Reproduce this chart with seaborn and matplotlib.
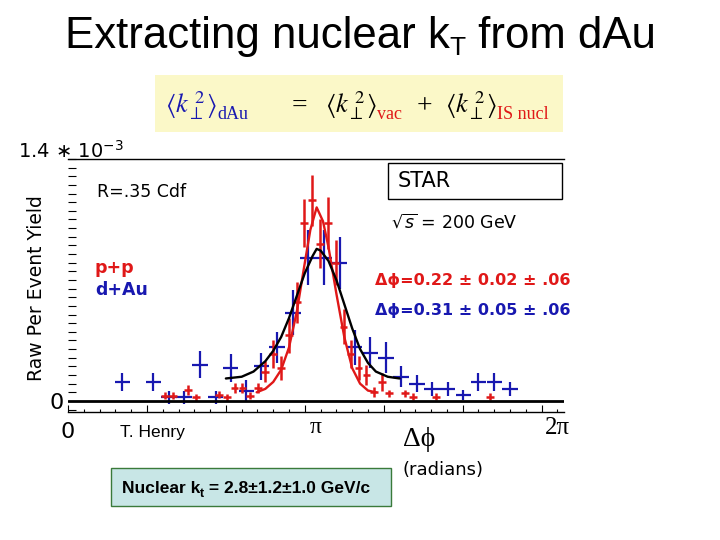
import matplotlib
matplotlib.use('Agg')
import matplotlib.pyplot as plt
import matplotlib.patches as patches
from matplotlib.ticker import MultipleLocator
import seaborn as sns

# d+Au points, bins of pi/16 (radians, yield in units of 1e-3)
dau_phi = [0.69, 1.08, 1.28, 1.47, 1.67, 1.87, 2.06, 2.26, 2.45, 2.65, 2.85, 3.04, 3.24,
           3.44, 3.63, 3.83, 4.03, 4.22, 4.42, 4.61, 4.81, 5.01, 5.20, 5.40, 5.60]
dau_yield = [0.11, 0.11, 0.02, 0.02, 0.21, 0.02, 0.19, 0.06, 0.20, 0.31, 0.51, 0.83, 0.83,
             0.80, 0.31, 0.28, 0.25, 0.14, 0.10, 0.07, 0.07, 0.035, 0.11, 0.11, 0.07]
dau_err = [0.05, 0.05, 0.04, 0.04, 0.08, 0.04, 0.08, 0.06, 0.08, 0.09, 0.13, 0.16, 0.16,
           0.15, 0.10, 0.09, 0.09, 0.06, 0.05, 0.04, 0.04, 0.03, 0.05, 0.05, 0.04]
dau_halfbin = 0.098

# p+p points, bins of pi/32
pp_phi = [1.23, 1.33, 1.52, 1.62, 1.91, 2.01, 2.11, 2.21, 2.31, 2.41, 2.50, 2.60, 2.70,
          2.80, 2.90, 2.99, 3.09, 3.19, 3.29, 3.39, 3.49, 3.58, 3.68, 3.78, 3.88, 3.98,
          4.07, 4.27, 4.37, 4.66, 5.35]
pp_yield = [0.03, 0.03, 0.064, 0.02, 0.035, 0.02, 0.075, 0.075, 0.03, 0.075, 0.17, 0.27, 0.19,
            0.38, 0.57, 1.03, 1.16, 0.91, 1.03, 0.80, 0.43, 0.27, 0.19, 0.15, 0.05, 0.11,
            0.045, 0.045, 0.025, 0.025, 0.025]
pp_err = [0.02, 0.02, 0.03, 0.02, 0.02, 0.02, 0.03, 0.03, 0.02, 0.03, 0.06, 0.08, 0.07,
          0.10, 0.12, 0.14, 0.15, 0.14, 0.15, 0.13, 0.10, 0.08, 0.07, 0.06, 0.03, 0.05,
          0.02, 0.02, 0.02, 0.02, 0.02]
pp_halfbin = 0.049

# fit curves
pp_fit_phi = [2.39, 2.50, 2.60, 2.70, 2.80, 2.90, 3.00, 3.07, 3.15, 3.23, 3.30, 3.40,
              3.50, 3.60, 3.70, 3.80, 3.90]
pp_fit_yield = [0.05, 0.07, 0.11, 0.18, 0.31, 0.52, 0.80, 0.99, 1.12, 1.04, 0.89, 0.62,
                0.37, 0.19, 0.10, 0.06, 0.05]
dau_fit_phi = [2.00, 2.20, 2.35, 2.50, 2.60, 2.70, 2.80, 2.90, 3.00, 3.10, 3.15, 3.20,
               3.30, 3.40, 3.50, 3.60, 3.70, 3.80, 3.90, 4.05, 4.20]
dau_fit_yield = [0.13, 0.14, 0.17, 0.23, 0.29, 0.37, 0.48, 0.61, 0.74, 0.84, 0.88, 0.87,
                 0.81, 0.70, 0.56, 0.42, 0.30, 0.22, 0.17, 0.14, 0.13]

sns.set_style('white')
plt.rcParams['font.family'] = ['DejaVu Sans']
plt.rcParams['text.color'] = 'black'
plt.rcParams['xtick.color'] = 'black'
plt.rcParams['ytick.color'] = 'black'

BLUE = '#1818b0'
RED = '#e01818'
W, H = 720, 540


def fx(px):
    return px / W


def fy(py):
    return 1 - py / H


fig = plt.figure(figsize=(7.2, 5.4), dpi=100)
ax = fig.add_axes([fx(68), fy(412), fx(564) - fx(68), fy(159) - fy(412)])

ax.errorbar(dau_phi, dau_yield, xerr=dau_halfbin, yerr=dau_err, fmt='none',
            ecolor=BLUE, elinewidth=1.6, capsize=0)
ax.errorbar(pp_phi, pp_yield, xerr=pp_halfbin, yerr=pp_err, fmt='none',
            ecolor=RED, elinewidth=1.8, capsize=0)
sns.lineplot(x=pp_fit_phi, y=pp_fit_yield, color=RED, lw=1.7, ax=ax)
sns.lineplot(x=dau_fit_phi, y=dau_fit_yield, color='black', lw=1.7, ax=ax)
ax.axhline(0, color='black', lw=2)

ax.set_xlim(0, 6.2832)
ax.set_ylim(-0.064, 1.4)
ax.xaxis.set_major_locator(MultipleLocator(1))
ax.xaxis.set_minor_locator(MultipleLocator(0.2))
ax.set_xticklabels([])
ax.set_yticks([0])
ax.set_yticklabels(['0'], fontsize=16)
ax.yaxis.set_minor_locator(MultipleLocator(0.05))
ax.tick_params(axis='x', which='major', direction='in', length=5, width=0.8, bottom=True)
ax.tick_params(axis='x', which='minor', direction='in', length=2.5, width=0.8, bottom=True)
ax.tick_params(axis='y', which='major', direction='in', length=9, width=0.8, left=True, pad=3)
ax.tick_params(axis='y', which='minor', direction='in', length=6, width=0.8, left=True)
ax.spines['left'].set_visible(False)
ax.spines['right'].set_visible(False)
for s in ['top', 'bottom']:
    ax.spines[s].set_color('black')
    ax.spines[s].set_linewidth(1)
ax.set_xlabel('')
ax.set_ylabel('')

# x axis labels
xtr = ax.get_xaxis_transform()
ax.text(0, -0.079, '0', transform=xtr, ha='center', va='center', fontsize=16)
ax.text(3.1416, -0.06, 'π', transform=xtr, ha='center', va='center',
        fontsize=17, family=['Liberation Serif', 'DejaVu Serif'])
ax.text(6.2, -0.063, '2π', transform=xtr, ha='center', va='center',
        fontsize=18, family=['Liberation Serif', 'DejaVu Serif'])

fig.text(fx(120), fy(432), 'T. Henry', ha='left', va='center', fontsize=12.5,
         family='Liberation Sans')
fig.text(fx(403), fy(440), 'Δϕ', ha='left', va='center', fontsize=20,
         family=['Liberation Serif', 'DejaVu Serif'])
fig.text(fx(402), fy(470), '(radians)', ha='left', va='center', fontsize=13)
fig.text(fx(37), fy(288), 'Raw Per Event Yield', rotation=90, ha='center', va='center',
         fontsize=13.5)
fig.text(fx(18), fy(158), r'1.4 ∗ 10$^{-3}$', ha='left', va='baseline', fontsize=14,
         math_fontfamily='dejavusans')

# annotations inside the plot
fig.text(fx(97), fy(192), 'R=.35 Cdf', ha='left', va='center', fontsize=12.5)
fig.text(fx(95), fy(268), 'p+p', ha='left', va='center', fontsize=12.5,
         fontweight='bold', color=RED)
fig.text(fx(95), fy(290), 'd+Au', ha='left', va='center', fontsize=12.5,
         fontweight='bold', color=BLUE)
fig.patches.append(patches.Rectangle((fx(388), fy(199)), fx(562) - fx(388), fy(163) - fy(199),
                                     transform=fig.transFigure, fill=False, lw=1,
                                     edgecolor='black'))
fig.text(fx(398), fy(181), 'STAR', ha='left', va='center', fontsize=15)
fig.text(fx(391), fy(222), r'$\sqrt{s}$ = 200 GeV', ha='left', va='center', fontsize=12.5,
         math_fontfamily='dejavusans')
fig.text(fx(375), fy(280), 'Δϕ=0.22 ± 0.02 ± .06', ha='left', va='center', fontsize=11.5,
         fontweight='bold', color=RED)
fig.text(fx(375), fy(310), 'Δϕ=0.31 ± 0.05 ± .06', ha='left', va='center', fontsize=11.5,
         fontweight='bold', color=BLUE)

# boxes
fig.patches.append(patches.Rectangle((fx(155), fy(132)), fx(563) - fx(155), fy(75) - fy(132),
                                     transform=fig.transFigure, facecolor='#fbf8c8',
                                     edgecolor='none', zorder=0))
fig.patches.append(patches.Rectangle((fx(111), fy(506)), fx(391) - fx(111), fy(468) - fy(506),
                                     transform=fig.transFigure, facecolor='#c8e6e6',
                                     edgecolor='#3a7a3a', lw=1, zorder=0))

fig.canvas.draw()
renderer = fig.canvas.get_renderer()


def text_run(pieces, x, y):
    # place text pieces one after another on a common baseline
    for s, dy, kw in pieces:
        t = fig.text(fx(x), fy(y + dy), s, ha='left', va='baseline', **kw)
        x = t.get_window_extent(renderer).x1


sans = dict(family='Liberation Sans')
text_run([('Extracting nuclear k', 0, dict(fontsize=31.5, **sans)),
          ('T', 7, dict(fontsize=19, **sans)),
          (' from dAu', 0, dict(fontsize=31.5, **sans))], 65, 48)

serif = dict(family=['Liberation Serif', 'DejaVu Serif'])
bracket = r'$\langle k_{\perp}^{\;2}\rangle$'
text_run([(bracket, 0, dict(fontsize=19, color=BLUE, math_fontfamily='stix')),
          ('dAu', 6, dict(fontsize=13, color=BLUE, **serif))], 165, 113)
text_run([('=', 0, dict(fontsize=20, **serif))], 292, 113)
text_run([(bracket, 0, dict(fontsize=19, math_fontfamily='stix')),
          ('vac', 6, dict(fontsize=13, color=RED, **serif))], 325, 113)
text_run([('+', 0, dict(fontsize=20, **serif))], 417, 113)
text_run([(bracket, 0, dict(fontsize=19, math_fontfamily='stix')),
          ('IS nucl', 6, dict(fontsize=13, color=RED, **serif))], 445, 113)

bold = dict(family='Liberation Sans', fontweight='bold')
text_run([('Nuclear k', 0, dict(fontsize=12.5, **bold)),
          ('t', 4, dict(fontsize=9, **bold)),
          (' = 2.8±1.2±1.0 GeV/c', 0, dict(fontsize=12.5, **bold))], 122, 493)

fig.savefig('out.png', dpi=100)
